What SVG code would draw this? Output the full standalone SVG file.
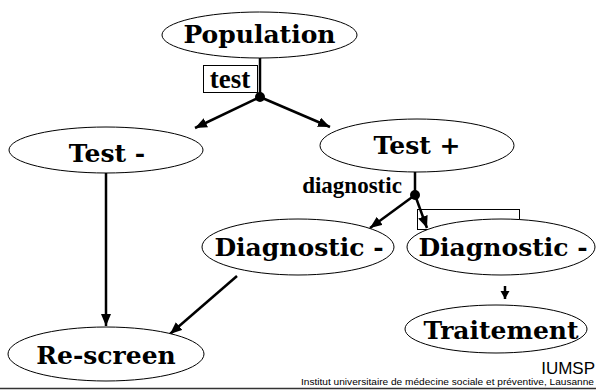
<svg xmlns="http://www.w3.org/2000/svg" width="596" height="390" viewBox="0 0 596 390">
  <defs>
    <style>
      .node ellipse { fill: #ffffff; stroke: #000000; stroke-width: 1; }
      .lbl { font-family: "DejaVu Serif", "Liberation Serif", serif; font-weight: bold; font-size: 25px; fill: #000; text-anchor: middle; }
      .conn line { stroke: #000; stroke-width: 2.5; fill: none; }
      .arrow line { marker-end: url(#ah); }
      .small { font-family: "Liberation Serif", serif; font-weight: bold; fill: #000; }
      .box { fill: #fff; stroke: #000; stroke-width: 1; }
      .foot { font-family: "Liberation Sans", Arial, sans-serif; fill: #000; }
    </style>
    <marker id="ah" markerUnits="userSpaceOnUse" markerWidth="14" markerHeight="11" refX="12" refY="5" orient="auto">
      <path d="M0,0 L12,5 L0,10 z" fill="#000"/>
    </marker>
    <marker id="ahs" markerUnits="userSpaceOnUse" markerWidth="10" markerHeight="10" refX="8" refY="4.5" orient="auto">
      <path d="M0,0 L8,4.5 L0,9 z" fill="#000"/>
    </marker>
  </defs>
  <rect x="0" y="0" width="596" height="390" fill="#ffffff"/>

  <g id="label-test">
    <rect class="box" x="203.5" y="65.5" width="54" height="27"/>
    <text class="small" x="230" y="88" font-size="27" text-anchor="middle">test</text>
  </g>
  <g id="label-rect-right">
    <rect class="box" x="417.5" y="209.5" width="102" height="20"/>
  </g>

  <g id="connectors" class="conn">
    <line x1="260" y1="58" x2="260" y2="97"/>
    <line x1="415" y1="172" x2="415" y2="195"/>
    <g class="arrow">
      <line x1="260" y1="97" x2="195" y2="128"/>
      <line x1="260" y1="97" x2="330" y2="127"/>
      <line x1="415" y1="195" x2="370" y2="228"/>
      <line x1="415" y1="195" x2="427" y2="228"/>
      <line x1="106" y1="173" x2="106" y2="326"/>
      <line x1="237" y1="276" x2="170" y2="334"/>
    </g>
    <line x1="505" y1="286" x2="505" y2="299" marker-end="url(#ahs)"/>
    <circle cx="260" cy="97" r="5" fill="#000"/>
    <circle cx="415" cy="195" r="5" fill="#000"/>
  </g>

  <g id="label-diagnostic">
    <text class="small" x="352" y="193" font-size="23" text-anchor="middle">diagnostic</text>
  </g>

  <g id="node-population" class="node">
    <ellipse cx="259.5" cy="35" rx="97.5" ry="23"/>
    <text class="lbl" x="259.5" y="43">Population</text>
  </g>
  <g id="node-test-minus" class="node">
    <ellipse cx="106" cy="150" rx="97" ry="23"/>
    <text class="lbl" x="107" y="162">Test -</text>
  </g>
  <g id="node-test-plus" class="node">
    <ellipse cx="417" cy="145.5" rx="97" ry="26.5"/>
    <text class="lbl" x="417" y="154">Test +</text>
  </g>
  <g id="node-diag-left" class="node">
    <ellipse cx="298" cy="247" rx="96" ry="28"/>
    <text class="lbl" x="299" y="256">Diagnostic -</text>
  </g>
  <g id="node-diag-right" class="node">
    <ellipse cx="501" cy="247" rx="94" ry="28"/>
    <text class="lbl" x="503" y="256">Diagnostic -</text>
  </g>
  <g id="node-traitement" class="node">
    <ellipse cx="496" cy="329" rx="91" ry="24"/>
    <text class="lbl" x="501" y="339">Traitement</text>
  </g>
  <g id="node-rescreen" class="node">
    <ellipse cx="106" cy="354" rx="98" ry="27"/>
    <text class="lbl" x="106" y="364">Re-screen</text>
  </g>

  <g id="footer">
    <text class="foot" x="595" y="374" font-size="17" text-anchor="end">IUMSP</text>
    <text class="foot" x="594" y="385" font-size="9.5" text-anchor="end" textLength="293" lengthAdjust="spacingAndGlyphs">Institut universitaire de médecine sociale et préventive, Lausanne</text>
    <line x1="0" y1="388.5" x2="596" y2="388.5" stroke="#333" stroke-width="1.5"/>
  </g>
</svg>
